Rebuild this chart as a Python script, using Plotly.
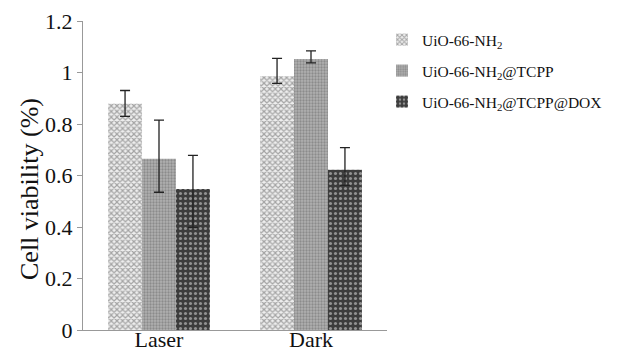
import plotly.graph_objects as go

categories = ["Laser", "Dark"]
series_names = ["UiO-66-NH<sub>2</sub>", "UiO-66-NH<sub>2</sub>@TCPP", "UiO-66-NH<sub>2</sub>@TCPP@DOX"]
values = [[0.88, 0.985], [0.665, 1.052], [0.548, 0.622]]
err_plus = [[0.05, 0.07], [0.15, 0.032], [0.13, 0.086]]
err_minus = [[0.05, 0.027], [0.13, 0.015], [0.15, 0.06]]
y_ticks = [0, 0.2, 0.4, 0.6, 0.8, 1, 1.2]
y_tick_text = ["0", "0.2", "0.4", "0.6", "0.8", "1", "1.2"]
y_title = "Cell viability (%)"

patterns = [
    dict(shape="x", fgcolor="#5a5a5a", bgcolor="#eeeeee", size=4, solidity=0.5),
    dict(shape=".", fgcolor="#666666", bgcolor="#b0b0b0", size=3, solidity=0.45),
    dict(shape=".", fgcolor="#e8e8e8", bgcolor="#3c3c3c", size=5, solidity=0.3),
]

FONT = "Liberation Serif, Times New Roman, serif"
OFF = 8  # page body margin
W, H = 617 - OFF, 352 - OFF
L, T = 83 - OFF, 21 - OFF
R = W - (387 - OFF)
B = H - (330 - OFF)
PW, PH = W - L - R, H - T - B

fig = go.Figure()
legends = ["legend", "legend2", "legend3"]
for i, name in enumerate(series_names):
    fig.add_trace(go.Bar(
        x=categories, y=values[i], name=name,
        marker=dict(color=patterns[i]["bgcolor"], line=dict(width=0), pattern=patterns[i]),
        error_y=dict(type="data", symmetric=False, array=err_plus[i], arrayminus=err_minus[i],
                     color="#222222", thickness=1.3, width=5),
        legend=legends[i],
    ))

legend_common = dict(font=dict(family=FONT, size=15.5, color="#111111"), bgcolor="rgba(0,0,0,0)",
                     xref="paper", yref="paper", xanchor="left", yanchor="middle", itemwidth=30,
                     borderwidth=0)
ys = [40, 71, 102]
layout_legends = {}
for i, lg in enumerate(legends):
    d = dict(legend_common)
    d["x"] = (422 - OFF - 40 - L) / PW
    d["y"] = (H - B - (ys[i] - OFF)) / PH
    layout_legends[lg] = d

fig.update_layout(
    width=W, height=H,
    margin=dict(l=L, r=R, t=T, b=B, autoexpand=False),
    paper_bgcolor="white", plot_bgcolor="white",
    barmode="group", bargap=0.33, bargroupgap=0,
    font=dict(family=FONT, color="#111111"),
    showlegend=True,
    **layout_legends,
)
fig.add_annotation(text=y_title, textangle=-90, showarrow=False,
                   xref="paper", yref="paper",
                   x=(29 - OFF - L) / PW, y=(H - B - (189 - OFF)) / PH,
                   xanchor="center", yanchor="middle",
                   font=dict(family=FONT, size=26, color="#111111"))
fig.update_xaxes(showline=True, linecolor="#999999", linewidth=1, ticks="", automargin=False,
                 ticklabelstandoff=-10,
                 tickfont=dict(family=FONT, size=22, color="#111111"), showgrid=False)
fig.update_yaxes(range=[0, 1.2], tickvals=y_ticks, ticktext=y_tick_text, automargin=False,
                 showline=True, linecolor="#999999", linewidth=1, ticks="outside", ticklen=5,
                 tickcolor="#999999", showgrid=False, zeroline=False,
                 tickfont=dict(family=FONT, size=22, color="#111111"))
fig.write_html("out.html")
